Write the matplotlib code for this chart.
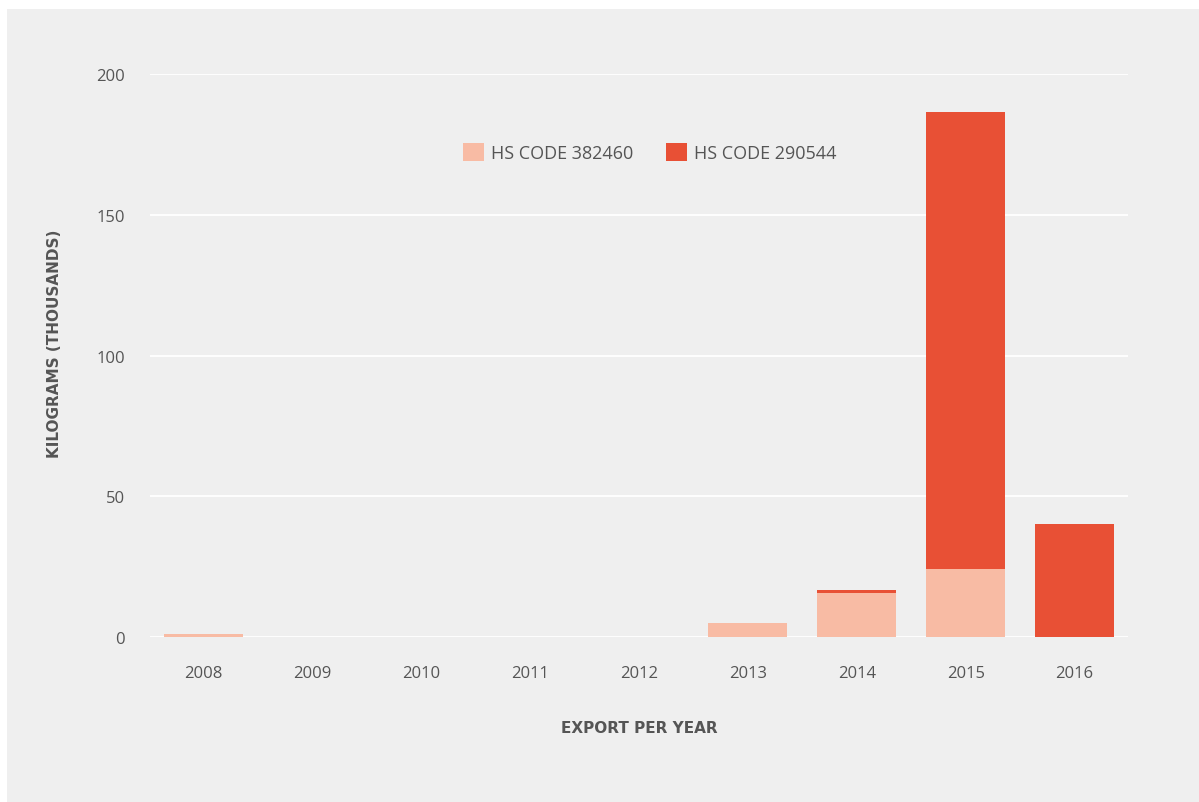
import numpy as np
import matplotlib.pyplot as plt
import matplotlib.patches as mpatches

plt.rcParams['font.family'] = ['Open Sans', 'DejaVu Sans']

years = ["2008", "2009", "2010", "2011", "2012", "2013", "2014", "2015", "2016"]
hs_382460 = [1.2, 0, 0, 0, 0, 4.9, 15.5, 24.0, 0]
hs_290544 = [0, 0, 0, 0, 0, 0, 1.1, 162.5, 40.0]
yticks = [0, 50, 100, 150, 200]

COLORS = {
    "light": "#F8BBA4",
    "dark": "#E85035",
    "bg": "#EFEFEF",
    "text": "#555555",
}

fig = plt.figure(figsize=(11.99, 8.03), dpi=100)
fig.patch.set_facecolor("white")
# gray card behind the chart
fig.patches.append(mpatches.Rectangle((7 / 1199, 0), 1 - 7 / 1199, 1 - 10 / 803,
                                      transform=fig.transFigure,
                                      facecolor=COLORS["bg"], edgecolor="none",
                                      zorder=-10))

ax = fig.add_axes([0.1251, 0.2055, 0.8157, 0.7005])
ax.patch.set_alpha(0)

x = np.arange(len(years))
width = 0.725
ax.bar(x, hs_382460, width, color=COLORS["light"], label="HS CODE 382460", zorder=3)
ax.bar(x, hs_290544, width, bottom=hs_382460, color=COLORS["dark"],
       label="HS CODE 290544", zorder=3)

ax.set_xlim(-0.49, 8.49)
ax.set_ylim(0, 200)
ax.set_yticks(yticks)
ax.set_xticks(x)
ax.set_xticklabels(years)
ax.grid(axis="y", color="white", linewidth=1.3, zorder=1)
ax.set_axisbelow(True)
for s in ax.spines.values():
    s.set_visible(False)
ax.tick_params(axis="both", length=0, labelsize=12, colors=COLORS["text"])
ax.tick_params(axis="y", pad=18)
ax.tick_params(axis="x", pad=20)

ax.set_xlabel("EXPORT PER YEAR", fontsize=11, fontweight="bold",
              color=COLORS["text"], labelpad=28, family="DejaVu Sans")
ax.set_ylabel("KILOGRAMS (THOUSANDS)", fontsize=11, fontweight="bold",
              color=COLORS["text"], family="DejaVu Sans")
ax.yaxis.set_label_coords(-0.0895, 0.523)

ax.legend(loc="center", bbox_to_anchor=(0.511, 0.861), ncol=2, frameon=False,
          fontsize=13, labelcolor=COLORS["text"], handlelength=1.15,
          handleheight=1.15, handletextpad=0.4, columnspacing=1.8)

plt.savefig("out.png", dpi=100)
plt.close()
